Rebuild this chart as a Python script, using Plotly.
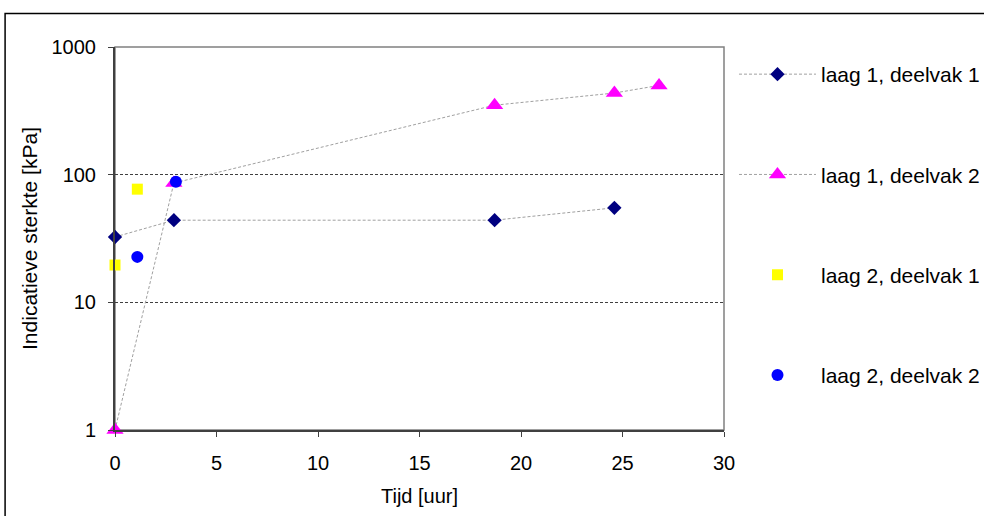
import plotly.graph_objects as go

# Data
s1_name = "laag 1, deelvak 1"
s1_x = [0, 2.9, 18.7, 24.6]
s1_y = [32.5, 44, 44, 55]

s2_name = "laag 1, deelvak 2"
s2_x = [0, 2.9, 18.7, 24.6, 26.8]
s2_y = [1, 86, 350, 436, 500]

s3_name = "laag 2, deelvak 1"
s3_x = [0, 1.1]
s3_y = [19.6, 77]

s4_name = "laag 2, deelvak 2"
s4_x = [1.1, 3.0]
s4_y = [22.7, 88]

x_ticks = [0, 5, 10, 15, 20, 25, 30]
y_ticks = [1, 10, 100, 1000]

FONT = "Liberation Sans, Arial, sans-serif"
LINE_DASH = "3px,2px"

fig = go.Figure()
fig.add_trace(go.Scatter(
    x=s1_x, y=s1_y, name=s1_name, mode="lines+markers", legendgroup="a",
    line=dict(color="#a0a0a0", width=1, dash=LINE_DASH),
    marker=dict(symbol="diamond", color="#000080", size=11), cliponaxis=False))
fig.add_trace(go.Scatter(
    x=s2_x, y=s2_y, name=s2_name, mode="lines+markers", legendgroup="b",
    line=dict(color="#a0a0a0", width=1, dash=LINE_DASH),
    marker=dict(symbol="triangle-up", color="#FF00FF", size=15), cliponaxis=False))
fig.add_trace(go.Scatter(
    x=s3_x, y=s3_y, name=s3_name, mode="markers", legendgroup="c",
    marker=dict(symbol="square", color="#FFFF00", size=11), cliponaxis=False))
fig.add_trace(go.Scatter(
    x=s4_x, y=s4_y, name=s4_name, mode="markers", legendgroup="d",
    marker=dict(symbol="circle", color="#0000FF", size=12), cliponaxis=False))

L, R, T, B = 114.5, 260, 47, 86
W, H = 984, 516
pw = W - L - R
ph = H - T - B

def px(x):
    return (x - L) / pw

def py(y):
    return (H - B - y) / ph

fig.update_layout(
    width=W, height=H,
    margin=dict(l=L, r=R, t=T, b=B, autoexpand=False),
    paper_bgcolor="white", plot_bgcolor="white",
    font=dict(family=FONT, size=20, color="black"),
    showlegend=True,
    legend=dict(x=px(734), y=py(54), xanchor="left", yanchor="top",
                font=dict(size=21), tracegroupgap=70, itemwidth=77,
                bgcolor="rgba(0,0,0,0)"),
    shapes=[
        dict(type="rect", xref="paper", yref="paper", x0=0, y0=0, x1=1, y1=1,
             line=dict(color="#808080", width=1.5), layer="below"),
        dict(type="rect", xref="paper", yref="paper",
             x0=px(4.5), y0=py(530), x1=px(1000), y1=py(13.5),
             line=dict(color="black", width=1.5), layer="below"),
    ],
)
fig.update_xaxes(
    range=[0, 30], tickvals=x_ticks, ticks="outside", ticklen=5,
    tickcolor="#404040", showline=True, linecolor="#404040", linewidth=2,
    showgrid=False, zeroline=False, tickfont=dict(size=20),
    ticklabelstandoff=9,
    title=dict(text="Tijd [uur]", font=dict(size=20), standoff=16))
fig.update_yaxes(
    type="log", range=[0, 3], tickvals=y_ticks, ticktext=[str(v) for v in y_ticks],
    ticks="outside", ticklen=5, tickcolor="#404040",
    showline=True, linecolor="#404040", linewidth=2,
    showgrid=True, gridcolor="#404040", griddash=LINE_DASH, gridwidth=1,
    zeroline=False, tickfont=dict(size=20), ticklabelstandoff=8,
    title=dict(text="Indicatieve sterkte [kPa]", font=dict(size=21), standoff=8))

fig.write_html(
    "out.html",
    config={"displayModeBar": False},
    post_script="document.body.style.margin='0';document.body.style.overflow='hidden';")
